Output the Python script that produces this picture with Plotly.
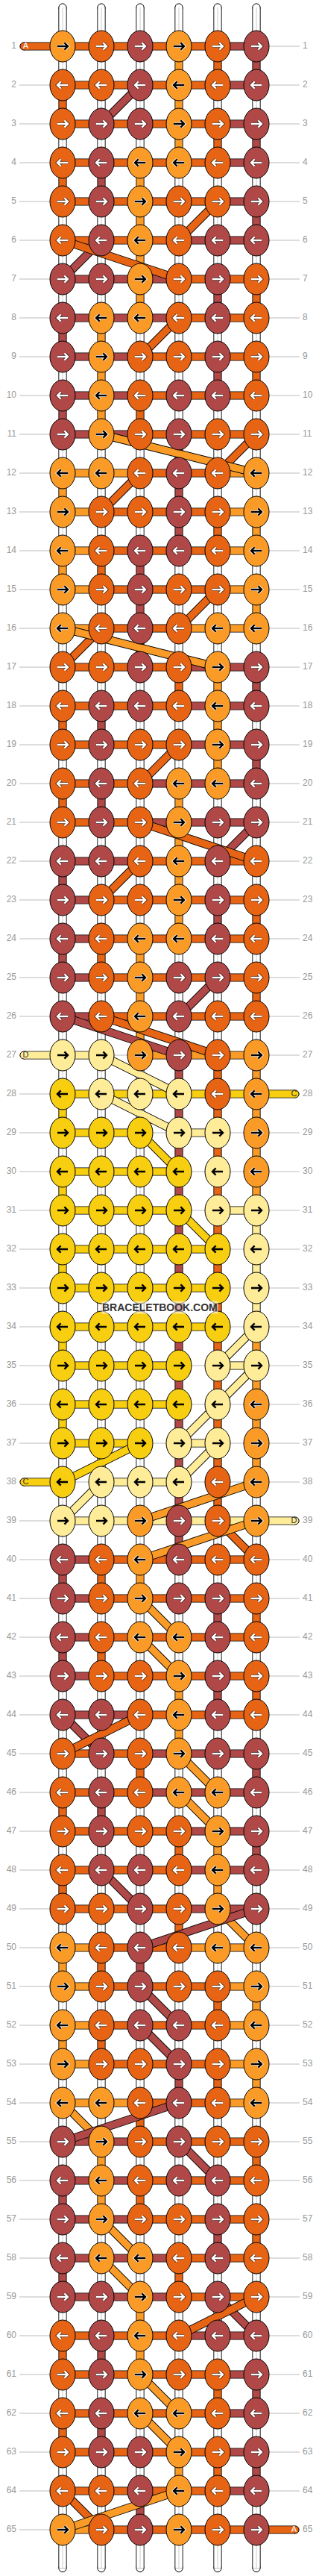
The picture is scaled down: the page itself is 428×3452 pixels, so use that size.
"""Friendship bracelet alpha pattern: knots, threads and crossings on a row/column grid."""

import plotly.graph_objects as go

# ── Thread colours ──────────────────────────────────────────────────────────
COLORS = {
    "L": "#FA9B28",
    "O": "#E66414",
    "R": "#B04848",
    "Y": "#F7CE10",
    "P": "#FEEC98",
}

# ── Knot colour per row, one letter per column ──────────────────────────────
knot_rows = [
    "LORLOR", "OORLOR", "ORRLOR", "ORLLOR", "ORLOOR", "ORLORR", "RRLORO", "RLLORO",
    "RLOORO", "RLORRO", "RLOROO", "LLOROL", "LOOROL", "LORROL", "LOROOL", "LOROLL",
    "OOROLR", "ORROLR", "OROOLR", "OROLLR", "OROLRR", "RROLRO", "ROOLRO", "ROLLRO",
    "ROLRRO", "ROLROO", "PPLROL", "YPPPOL", "YYYPPL", "YYYYPL", "YYYYPP", "YYYYYP",
    "YYYYYP", "YYYYYP", "YYYYPP", "YYYYPL", "YYYPPL", "YPPPOL", "PPLROL", "ROLROO",
    "ROLRRO", "ROLLRO", "ROOLRO", "RROLRO", "OROLRR", "OROLLR", "OROOLR", "ORROLR",
    "OOROLR", "LOROLL", "LOROOL", "LORROL", "LOOROL", "LLOROL", "RLOROO", "RLORRO",
    "RLOORO", "RLLORO", "RRLORO", "ORLORR", "ORLOOR", "ORLLOR", "ORRLOR", "OORLOR",
    "LORLOR",
]

# ── Horizontal thread between neighbouring knots ("-" = no thread) ──────────
horizontal_rows = [
    "OOOOR", "OOOOR", "OOOOR", "OOOOR", "OOOOR", "OOORR", "RRROO", "RRROO",
    "RROOO", "RROOO", "RROOO", "LLOOL", "LOOOL", "LOOOL", "LOOOL", "LOOLL",
    "OOORR", "OOORR", "OOORR", "OORRR", "OORRR", "RROOO", "ROOOO", "ROOOO",
    "ROOOO", "ROOOO", "P-LLL", "YYYYY", "YY-P-", "YYY--", "YYY-P", "YYYY-",
    "YYYY-", "YYYY-", "YYY-P", "YYY--", "YY-P-", "-PP--", "PPPPP", "ROOOO",
    "ROOOO", "ROOOO", "ROOOO", "RROOO", "OORRR", "OORRR", "OOORR", "OOORR",
    "OOORR", "LOOLL", "LOOOL", "LOOOL", "LOOOL", "LLOOL", "RROOO", "RROOO",
    "RROOO", "RRROO", "RRROO", "OOORR", "OOOOR", "OOOOR", "OOOOR", "OOOOR",
    "LOOOO",
]

# ── Vertical thread between a row and the next one ("W" = white warp) ───────
vertical_gaps = [
    "WWWLOR", "OWWLWW", "WWWLOR", "ORLWWW", "WWLWWR", "WWLWWW", "WWLWRO", "RLWWWW",
    "WLWWRO", "RLOWWW", "WWWRWW", "LWWRWW", "WWWROL", "LORWWW", "WWRWWL", "WWRWWW",
    "WWWOLR", "ORWWLW", "WWWWLR", "ORWLWW", "WWWLWW", "RWWLWW", "WWWLRO", "ROLWWW",
    "WWLWWO", "WWLWWW", "WWWROL", "YWWROL", "WWWROL", "YWWROL", "WWWROP", "YWWROP",
    "WWWROP", "YWWROL", "WWWROL", "YWWROL", "WWWROL", "WWWROW", "WWWRWW", "ROLWWW",
    "WWWWRO", "ROWWWW", "WWWLRO", "WWWLWW", "WWOWWR", "ORWWWW", "WWWOLR", "OWWWLW",
    "WWWOWW", "LORWWW", "WWWWOL", "LOWWWW", "WWWROL", "WWOWWW", "WLWWWO", "RLOWWW",
    "WWWWRO", "RWWOWW", "WWLWWW", "ORLWWW", "WWWWOR", "ORWWWW", "WWWLOR", "WWRWWW",
]

# ── Crossings: from row, from column, to row, to column, colour ─────────────
crossings = [
    (2, 3, 3, 2, "R"), (5, 5, 6, 4, "O"), (6, 2, 7, 1, "R"), (6, 1, 7, 4, "O"),
    (8, 4, 9, 3, "O"), (11, 6, 12, 5, "O"), (11, 2, 12, 6, "L"), (12, 3, 13, 2, "O"),
    (15, 5, 16, 4, "O"), (16, 2, 17, 1, "O"), (16, 1, 17, 5, "L"), (19, 4, 20, 3, "O"),
    (21, 6, 22, 5, "R"), (21, 3, 22, 6, "O"), (22, 3, 23, 2, "O"), (25, 5, 26, 4, "R"),
    (26, 1, 27, 4, "R"), (26, 2, 27, 5, "O"), (27, 2, 28, 4, "P"), (28, 2, 29, 4, "P"),
    (29, 3, 30, 4, "Y"), (31, 4, 32, 5, "Y"), (34, 6, 35, 5, "P"), (35, 6, 36, 5, "P"),
    (36, 5, 37, 4, "P"), (37, 5, 38, 4, "P"), (37, 3, 38, 1, "Y"), (38, 2, 39, 1, "P"),
    (38, 6, 39, 3, "L"), (39, 5, 40, 6, "O"), (39, 6, 40, 3, "L"), (41, 3, 42, 4, "L"),
    (42, 3, 43, 4, "L"), (44, 1, 45, 2, "R"), (44, 3, 45, 1, "O"), (45, 4, 46, 5, "L"),
    (46, 4, 47, 5, "L"), (48, 2, 49, 3, "R"), (49, 5, 50, 6, "L"), (49, 6, 50, 3, "R"),
    (51, 3, 52, 4, "R"), (52, 3, 53, 4, "R"), (54, 1, 55, 2, "L"), (54, 4, 55, 1, "R"),
    (55, 4, 56, 5, "R"), (57, 2, 58, 3, "L"), (58, 2, 59, 3, "L"), (59, 5, 60, 6, "R"),
    (59, 6, 60, 4, "O"), (61, 3, 62, 4, "L"), (62, 3, 63, 4, "L"), (64, 1, 65, 2, "O"),
    (64, 4, 65, 1, "L"),
]

# ── Loose ends: row, side, colour, letter ───────────────────────────────────
loose_ends = [
    (1, "left", "O", "A"), (27, "left", "P", "D"), (38, "left", "Y", "C"),
    (28, "right", "Y", "C"), (39, "right", "P", "D"), (65, "right", "O", "A"),
]

row_numbers = list(range(1, len(knot_rows) + 1))
columns = list(range(1, 7))

# ── Page geometry (pixels) ──────────────────────────────────────────────────
WIDTH, HEIGHT = 428, 3452
PITCH = 52
FIRST_X, FIRST_Y = 84, 62


def col_at(px):
    return 1 + (px - FIRST_X) / PITCH


def row_at(py):
    return 1 + (py - FIRST_Y) / PITCH


fig = go.Figure()


def add_lines(segments, color, width):
    xs, ys = [], []
    for x0, y0, x1, y1 in segments:
        xs += [x0, x1, None]
        ys += [y0, y1, None]
    fig.add_trace(go.Scatter(x=xs, y=ys, mode="lines", line=dict(color=color, width=width),
                             hoverinfo="skip", showlegend=False))


def add_band(segments, color):
    add_lines(segments, "#000000", 11.2)
    add_lines(segments, color, 9.4)


def add_caps(xs, ys, color):
    fig.add_trace(go.Scatter(x=xs, y=ys, mode="markers",
                             marker=dict(size=10.2, color=color, line=dict(width=1, color="#000000")),
                             hoverinfo="skip", showlegend=False))


# Grey guide lines behind every row
add_lines([(col_at(26), r, col_at(402), r) for r in row_numbers], "#BBBBBB", 1)

# White warp threads, with the loose tops and bottoms
warp = []
for c in columns:
    warp.append((c, row_at(10), c, 1))
    warp.append((c, len(knot_rows), c, row_at(3441.5)))
for i, gap in enumerate(vertical_gaps):
    warp += [(c, i + 1, c, i + 2) for c, k in zip(columns, gap) if k == "W"]
cap_x = columns * 2
cap_y = [row_at(10)] * 6 + [row_at(3441.5)] * 6
add_caps(cap_x, cap_y, "#FFFFFF")
add_band(warp, "#FFFFFF")
add_lines(warp, "#CCCCCC", 1)

# Coloured vertical and horizontal threads
for key, color in COLORS.items():
    segs = []
    for i, gap in enumerate(vertical_gaps):
        segs += [(c, i + 1, c, i + 2) for c, k in zip(columns, gap) if k == key]
    for r, row in zip(row_numbers, horizontal_rows):
        segs += [(c, r, c + 1, r) for c, k in zip(columns, row) if k == key]
    if segs:
        add_band(segs, color)

# Loose ends of the coloured threads
for r, side, key, letter in loose_ends:
    end = col_at(32) if side == "left" else col_at(396)
    start = 1 if side == "left" else 6
    add_lines([(start, r, end, r)], "#000000", 11.2)
    add_caps([end], [r], COLORS[key])
    add_lines([(start, r, end, r)], COLORS[key], 9.4)

# Crossings, in drawing order
for r0, c0, r1, c1, key in crossings:
    add_band([(c0, r0, c1, r1)], COLORS[key])

# Knots sit above every thread, so they are shapes in data coordinates
shapes = []
for r, row in zip(row_numbers, knot_rows):
    for c, k in zip(columns, row):
        shapes.append(dict(type="circle", xref="x", yref="y", layer="above",
                           x0=c - 17 / PITCH, x1=c + 17 / PITCH,
                           y0=r - 21 / PITCH, y1=r + 21 / PITCH,
                           fillcolor=COLORS[k], line=dict(color="#000000", width=1)))


def arrow_path(keys):
    half, head = 7 / PITCH, 4.6 / PITCH
    parts = []
    for r, row in zip(row_numbers, knot_rows):
        d = 1 if r % 2 else -1
        for c, k in zip(columns, row):
            if k in keys:
                tip = c + d * half
                back = tip - d * head
                parts.append(f"M{c - d * half},{r}L{tip},{r}"
                             f"M{back},{r - head}L{tip},{r}L{back},{r + head}")
    return "".join(parts)


# Arrows: ink colour and halo depend on the knot colour
for keys, ink, halo in (("OR", "#FFFFFF", "rgba(0,0,0,0.6)"), ("L", "#000000", "#FFFFFF"), ("YP", "#000000", None)):
    path = arrow_path(keys)
    if halo:
        shapes.append(dict(type="path", xref="x", yref="y", layer="above", path=path,
                           line=dict(color=halo, width=4.2)))
    shapes.append(dict(type="path", xref="x", yref="y", layer="above", path=path,
                       line=dict(color=ink, width=2.4)))

# Row numbers on both sides
label_font = dict(family="Liberation Sans, Arial, sans-serif", size=12, color="#999999")
fig.add_trace(go.Scatter(x=[col_at(22)] * len(row_numbers), y=row_numbers, mode="text",
                         text=[str(r) for r in row_numbers], textposition="middle left",
                         textfont=label_font, hoverinfo="skip", showlegend=False))
fig.add_trace(go.Scatter(x=[col_at(406)] * len(row_numbers), y=row_numbers, mode="text",
                         text=[str(r) for r in row_numbers], textposition="middle right",
                         textfont=label_font, hoverinfo="skip", showlegend=False))

# Thread letters on the loose ends
for r, side, key, letter in loose_ends:
    fig.add_trace(go.Scatter(x=[col_at(34.5 if side == "left" else 394.5)], y=[r], mode="text",
                             text=[letter], textposition="middle center",
                             textfont=dict(family="Liberation Sans, Arial, sans-serif", size=11,
                                           color="#FFFFFF" if key in "OR" else "#333333"),
                             hoverinfo="skip", showlegend=False))

fig.update_layout(
    width=WIDTH,
    height=HEIGHT,
    margin=dict(l=0, r=0, t=0, b=0),
    paper_bgcolor="#FFFFFF",
    plot_bgcolor="#FFFFFF",
    xaxis=dict(range=[col_at(0), col_at(WIDTH)], visible=False, fixedrange=True),
    yaxis=dict(range=[row_at(HEIGHT), row_at(0)], visible=False, fixedrange=True),
    shapes=shapes,
    annotations=[dict(
        x=col_at(214), y=row_at(1751.5), text="<b>BRACELETBOOK.COM</b>", showarrow=False,
        font=dict(family="Liberation Sans, Arial, sans-serif", size=14, color="#333333"),
        bgcolor="rgba(255,255,255,0.55)", borderpad=0,
    )],
)

fig.write_html("out.html", config=dict(displayModeBar=False),
               post_script="document.body.style.margin='0';document.body.style.overflow='hidden';")
